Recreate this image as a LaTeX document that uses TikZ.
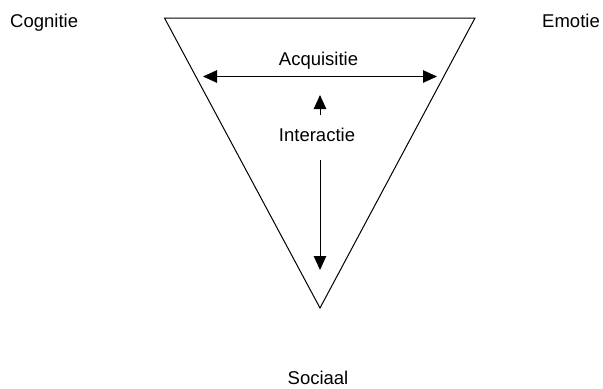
\documentclass[tikz,border=0pt]{standalone}
\usepackage{fontspec}
\setmainfont{Liberation Sans}
\usetikzlibrary{arrows.meta}
\begin{document}
\begin{tikzpicture}[x=1bp,y=-1bp,
  lbl/.style={inner sep=0pt,anchor=base,font=\fontsize{18.5bp}{22bp}\selectfont},
  tip/.tip={Triangle[length=14bp,width=12.5bp]},
  arr/.style={line width=1bp,-tip},
  darr/.style={line width=1bp,tip-tip},
  tri/.style={line width=1bp,line join=miter}]
\useasboundingbox (0,0) rectangle (603,388);
\coordinate (tl) at (164.5,18);
\coordinate (tr) at (475,18);
\coordinate (b) at (320,308);
\draw[tri] (tl) -- (tr) -- (b) -- cycle;
\node[lbl,anchor=base west] (cog) at (10,27) {Cognitie};
\node[lbl,anchor=base east] (emo) at (600,27) {Emotie};
\node[lbl] (soc) at (318,384) {Sociaal};
\node[lbl] (acq) at (318.5,65) {Acquisitie};
\node[lbl] (int) at (317,141.5) {Interactie};
\coordinate (hl) at (203,76.5);
\coordinate (hr) at (437,76.5);
\draw[darr] (hl) -- (hr);
\coordinate (ut) at (320,115);
\coordinate (uh) at (320,95);
\draw[arr] (ut) -- (uh);
\coordinate (dt) at (320,160);
\coordinate (dh) at (320,270);
\draw[arr] (dt) -- (dh);
\end{tikzpicture}
\end{document}
